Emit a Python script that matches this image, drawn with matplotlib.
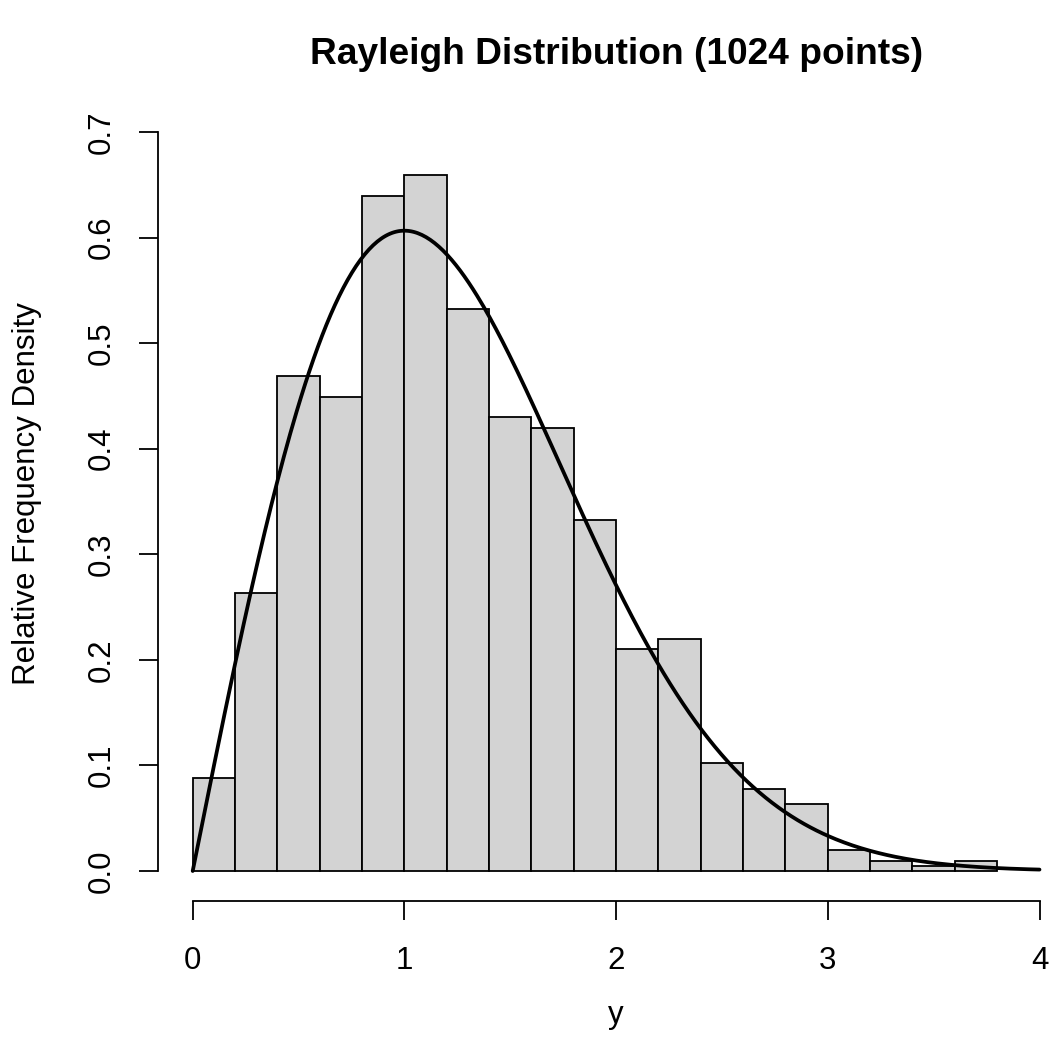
import numpy as np
import matplotlib
matplotlib.use("Agg")
import matplotlib.pyplot as plt

plt.rcParams['font.family'] = ['Liberation Sans', 'DejaVu Sans']

# Data
breaks = [0.0, 0.2, 0.4, 0.6, 0.8, 1.0, 1.2, 1.4, 1.6, 1.8, 2.0,
          2.2, 2.4, 2.6, 2.8, 3.0, 3.2, 3.4, 3.6, 3.8]
counts = [18, 54, 96, 92, 131, 135, 109, 88, 86, 68,
          43, 45, 21, 16, 13, 4, 2, 1, 2]
n_points = 1024
sigma = 1.0
x_ticks = [0, 1, 2, 3, 4]
y_ticks = [0.0, 0.1, 0.2, 0.3, 0.4, 0.5, 0.6, 0.7]

W, H = 1052, 1057
fig = plt.figure(figsize=(W / 100, H / 100), dpi=100)

# Pixel layout
x0_px, px_per_x = 192.7, 211.7
y0_px, px_per_y = 871.0, 1055.7
left_px, bottom_px, top_px = 158.0, 901.0, 102.5
xmin = (left_px - x0_px) / px_per_x
xmax = 4.164
right_px = x0_px + xmax * px_per_x
ymin = (y0_px - bottom_px) / px_per_y
ymax = (y0_px - top_px) / px_per_y

ax = fig.add_axes([left_px / W, 1 - bottom_px / H,
                   (right_px - left_px) / W, (bottom_px - top_px) / H])
ax.set_xlim(xmin, xmax)
ax.set_ylim(ymin, ymax)

edges = np.array(breaks)
widths = np.diff(edges)
dens = np.array(counts) / (n_points * widths)
ax.bar(edges[:-1], dens, width=widths, align='edge', color='#D3D3D3',
       edgecolor='black', linewidth=1.3, zorder=2)

xs = np.linspace(0, 4, 400)
pdf = xs / sigma**2 * np.exp(-xs**2 / (2 * sigma**2))
ax.plot(xs, pdf, color='black', linewidth=2.7, zorder=3,
        solid_capstyle='round')

for s in ['top', 'right']:
    ax.spines[s].set_visible(False)
ax.spines['left'].set_bounds(0, 0.7)
ax.spines['bottom'].set_bounds(0, 4)
for s in ['left', 'bottom']:
    ax.spines[s].set_linewidth(1.3)
ax.set_xticks(x_ticks)
ax.set_xticklabels([str(t) for t in x_ticks])
ax.set_yticks(y_ticks)
ax.set_yticklabels([f"{t:.1f}" for t in y_ticks], rotation=90, va='center')
ax.tick_params(axis='both', direction='out', length=13.7, width=1.3,
               labelsize=22.5)
ax.tick_params(axis='x', pad=19)
ax.tick_params(axis='y', pad=16)

fig.text(617 / W, 1 - 55 / H, "Rayleigh Distribution (1024 points)",
         ha='center', va='center', fontsize=26.7, fontweight='bold')
fig.text(616 / W, 1 - 1015 / H, "y", ha='center', va='center', fontsize=22.5)
fig.text(27 / W, 1 - 494 / H, "Relative Frequency Density", ha='center',
         va='center', rotation=90, fontsize=22.5)

fig.savefig("out.png", dpi=100)
